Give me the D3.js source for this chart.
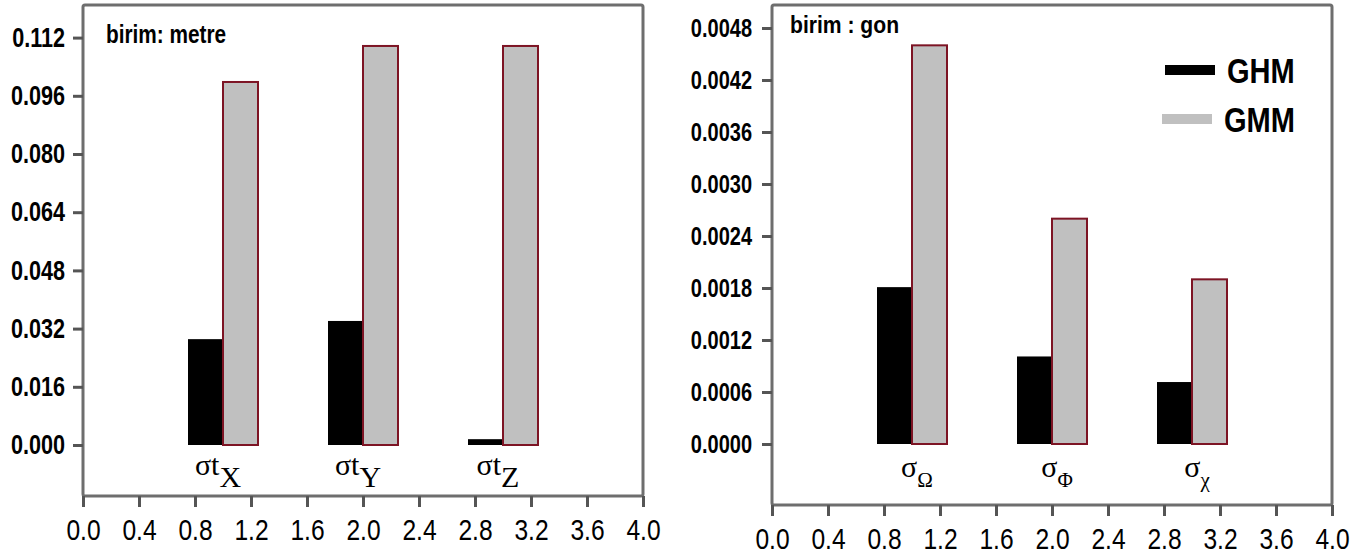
<!DOCTYPE html>
<html>
<head>
<meta charset="utf-8">
<script src="https://cdn.jsdelivr.net/npm/d3@7"></script>
<style>
  body { margin: 0; background: #fff; }
  svg { display: block; }
  text { font-family: "Liberation Sans", Arial, sans-serif; }
</style>
</head>
<body>
<svg id="chart" width="1364" height="558"></svg>
<script>
'use strict';

// values
let seriesNames = ['GHM', 'GMM'];
let xTicks = [0.0, 0.4, 0.8, 1.2, 1.6, 2.0, 2.4, 2.8, 3.2, 3.6, 4.0];

let leftPositions = [1, 2, 3];
let leftMain = ['σt', 'σt', 'σt'];
let leftSub = ['X', 'Y', 'Z'];
let leftGHM = [0.0291, 0.0341, 0.0016];
let leftGMM = [0.0998, 0.1097, 0.1097];
let leftTicks = [0.000, 0.016, 0.032, 0.048, 0.064, 0.080, 0.096, 0.112];
let leftUnit = 'birim: metre';

let rightPositions = [1, 2, 3];
let rightMain = ['σ', 'σ', 'σ'];
let rightSub = ['Ω', 'Φ', 'χ'];
let rightGHM = [0.00181, 0.00101, 0.000715];
let rightGMM = [0.00460, 0.00260, 0.00190];
let rightTicks = [0.0000, 0.0006, 0.0012, 0.0018, 0.0024, 0.0030, 0.0036, 0.0042, 0.0048];
let rightUnit = 'birim : gon';

let svg = d3.select('#chart');

function panel(opts) {
  let x = d3.scaleLinear().domain([0, 4]).range([opts.left, opts.right]);
  let y = d3.scaleLinear().domain(opts.yDomain).range(opts.yRange);
  let g = svg.append('g');

  // frame
  g.append('rect')
    .attr('x', opts.left)
    .attr('y', opts.top)
    .attr('width', opts.right - opts.left)
    .attr('height', opts.bottom - opts.top)
    .attr('rx', 2)
    .attr('fill', 'none')
    .attr('stroke', '#6e6e6e')
    .attr('stroke-width', 3);

  // bars
  let groups = opts.positions.map(function(p, i) {
    return {p: p, ghm: opts.ghm[i], gmm: opts.gmm[i], main: opts.main[i], sub: opts.sub[i]};
  });

  g.selectAll('.ghm')
    .data(groups)
    .enter()
    .append('rect')
    .attr('class', 'ghm')
    .attr('x', d => x(d.p - 0.25))
    .attr('y', d => y(d.ghm))
    .attr('width', d => x(d.p) - x(d.p - 0.25))
    .attr('height', d => y(0) - y(d.ghm))
    .attr('fill', '#000');

  g.selectAll('.gmm')
    .data(groups)
    .enter()
    .append('rect')
    .attr('class', 'gmm')
    .attr('x', d => x(d.p))
    .attr('y', d => y(d.gmm))
    .attr('width', d => x(d.p + 0.25) - x(d.p))
    .attr('height', d => y(0) - y(d.gmm))
    .attr('fill', '#c0c0c0')
    .attr('stroke', '#7d1424')
    .attr('stroke-width', 2);

  // category labels
  let lab = g.selectAll('.cat')
    .data(groups)
    .enter()
    .append('text')
    .attr('class', 'cat')
    .attr('x', d => x(d.p) + opts.catShift)
    .attr('y', opts.catY)
    .attr('text-anchor', 'middle')
    .style('font-family', '"Liberation Serif", "Times New Roman", serif');
  lab.append('tspan')
    .attr('font-size', opts.catSize)
    .text(d => d.main);
  lab.append('tspan')
    .attr('font-size', opts.subSize)
    .attr('dy', opts.subDy)
    .text(d => d.sub);

  // y axis
  let yAxis = g.append('g')
    .attr('transform', 'translate(' + opts.left + ',0)')
    .call(d3.axisLeft(y).tickValues(opts.yTicks).tickSize(10).tickFormat(d3.format(opts.yFormat)));
  yAxis.select('.domain').remove();
  yAxis.selectAll('line').attr('stroke', '#555').attr('stroke-width', 3);
  yAxis.selectAll('text')
    .attr('fill', '#000')
    .attr('font-size', opts.yFont)
    .attr('font-weight', 'bold')
    .attr('x', -opts.yGap / 0.8)
    .attr('transform', 'scale(0.8,1)');

  // x axis
  let xAxis = g.append('g')
    .attr('transform', 'translate(0,' + opts.bottom + ')')
    .call(d3.axisBottom(x).tickValues(xTicks).tickSize(11).tickFormat(d3.format('.1f')));
  xAxis.select('.domain').remove();
  xAxis.selectAll('line').attr('stroke', '#555').attr('stroke-width', 3);
  xAxis.selectAll('text')
    .attr('fill', '#000')
    .attr('font-size', 30)
    .attr('y', 44)
    .attr('dy', 0)
    .attr('transform', 'scale(0.82,1)');

  // unit note
  g.append('text')
    .attr('transform', 'translate(' + opts.unitX + ',' + opts.unitY + ') scale(' + opts.unitSx + ',1)')
    .attr('font-size', opts.unitSize)
    .attr('font-weight', 'bold')
    .text(opts.unit);

  return g;
}

panel({
  left: 83, right: 643, top: 5, bottom: 496,
  yDomain: [0, 0.112], yRange: [445, 37.6], yTicks: leftTicks, yFormat: '.3f',
  yFont: 27, yGap: 18,
  positions: leftPositions, ghm: leftGHM, gmm: leftGMM, main: leftMain, sub: leftSub,
  catY: 475, catShift: -5, catSize: 30, subSize: 30, subDy: 12,
  unit: leftUnit, unitX: 106, unitY: 43, unitSize: 26, unitSx: 0.8
});

let right = panel({
  left: 772, right: 1332, top: 5, bottom: 505,
  yDomain: [0, 0.0048], yRange: [444, 28], yTicks: rightTicks, yFormat: '.4f',
  yFont: 25, yGap: 20,
  positions: rightPositions, ghm: rightGHM, gmm: rightGMM, main: rightMain, sub: rightSub,
  catY: 477, catShift: 5, catSize: 30, subSize: 21, subDy: 10,
  unit: rightUnit, unitX: 790, unitY: 33, unitSize: 24, unitSx: 0.88
});

// legend
let legendColors = ['#000', '#c0c0c0'];
let legend = right.selectAll('.legend')
  .data(seriesNames)
  .enter()
  .append('g')
  .attr('class', 'legend')
  .attr('transform', (d, i) => 'translate(' + (1165 - i * 3) + ',' + (70 + i * 49) + ')');
legend.append('line')
  .attr('x1', 0)
  .attr('x2', 50)
  .attr('stroke', (d, i) => legendColors[i])
  .attr('stroke-width', 10);
legend.append('text')
  .attr('transform', 'translate(62,13) scale(0.83,1)')
  .attr('font-size', 35)
  .attr('font-weight', 'bold')
  .text(d => d);
</script>
</body>
</html>
